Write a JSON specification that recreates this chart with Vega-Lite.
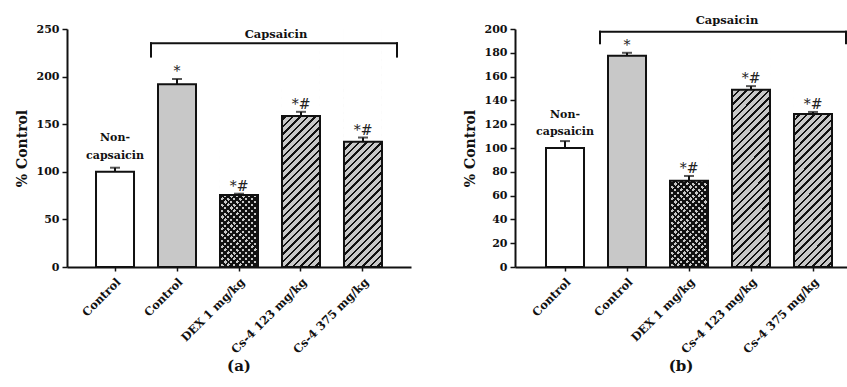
{
"$schema": "https://vega.github.io/schema/vega-lite/v6.json",
"background": "white",
"padding": {"left": 15, "top": 15, "right": 0, "bottom": 0},
"spacing": 52,
"config": {
  "view": {"stroke": null},
  "axis": {"domainColor": "#111", "domainWidth": 2, "tickColor": "#111", "tickWidth": 1.5, "labelColor": "#111", "titleColor": "#111", "labelFont": "DejaVu Serif", "titleFont": "DejaVu Serif", "labelFontWeight": "bold", "titleFontWeight": "bold", "grid": false, "labelOverlap": false}
},
"hconcat": [
{
  "width": 344, "height": 238,
  "resolve": {"axis": {"y": "independent"}},
  "title": {"text": "(a)", "orient": "bottom", "font": "DejaVu Serif", "fontSize": 15, "fontWeight": "bold", "offset": 4, "color": "#111"},
  "data": {"values": [
    {"group": "Control", "value": 100, "upper": 104.3, "sig": "", "pattern": "plain"},
    {"group": "Capsaicin Control", "value": 192, "upper": 197.5, "sig": "*", "pattern": "solid"},
    {"group": "DEX 1 mg/kg", "value": 75.5, "upper": 77, "sig": "*#", "pattern": "cross"},
    {"group": "Cs-4 123 mg/kg", "value": 158.5, "upper": 163, "sig": "*#", "pattern": "diag"},
    {"group": "Cs-4 375 mg/kg", "value": 131.5, "upper": 136, "sig": "*#", "pattern": "diag"}
  ]},
  "layer": [
    {"transform": [{"filter": "datum.pattern == 'diag'"}],
     "mark": {"type": "bar", "fill": {"gradient": "linear", "x1": 0, "y1": 0, "x2": 0.1806, "y2": 1.1308, "stops": [
{"offset":0,"color":"#c8c8c8"},
{"offset":0.2174,"color":"#c8c8c8"},{"offset":0.2174,"color":"#111"},{"offset":0.2261,"color":"#111"},{"offset":0.2261,"color":"#c8c8c8"},
{"offset":0.2446,"color":"#c8c8c8"},{"offset":0.2446,"color":"#111"},{"offset":0.2533,"color":"#111"},{"offset":0.2533,"color":"#c8c8c8"},
{"offset":0.2717,"color":"#c8c8c8"},{"offset":0.2717,"color":"#111"},{"offset":0.2804,"color":"#111"},{"offset":0.2804,"color":"#c8c8c8"},
{"offset":0.2989,"color":"#c8c8c8"},{"offset":0.2989,"color":"#111"},{"offset":0.3076,"color":"#111"},{"offset":0.3076,"color":"#c8c8c8"},
{"offset":0.3261,"color":"#c8c8c8"},{"offset":0.3261,"color":"#111"},{"offset":0.3348,"color":"#111"},{"offset":0.3348,"color":"#c8c8c8"},
{"offset":0.3533,"color":"#c8c8c8"},{"offset":0.3533,"color":"#111"},{"offset":0.3620,"color":"#111"},{"offset":0.3620,"color":"#c8c8c8"},
{"offset":0.3804,"color":"#c8c8c8"},{"offset":0.3804,"color":"#111"},{"offset":0.3891,"color":"#111"},{"offset":0.3891,"color":"#c8c8c8"},
{"offset":0.4076,"color":"#c8c8c8"},{"offset":0.4076,"color":"#111"},{"offset":0.4163,"color":"#111"},{"offset":0.4163,"color":"#c8c8c8"},
{"offset":0.4348,"color":"#c8c8c8"},{"offset":0.4348,"color":"#111"},{"offset":0.4435,"color":"#111"},{"offset":0.4435,"color":"#c8c8c8"},
{"offset":0.4620,"color":"#c8c8c8"},{"offset":0.4620,"color":"#111"},{"offset":0.4707,"color":"#111"},{"offset":0.4707,"color":"#c8c8c8"},
{"offset":0.4891,"color":"#c8c8c8"},{"offset":0.4891,"color":"#111"},{"offset":0.4978,"color":"#111"},{"offset":0.4978,"color":"#c8c8c8"},
{"offset":0.5163,"color":"#c8c8c8"},{"offset":0.5163,"color":"#111"},{"offset":0.5250,"color":"#111"},{"offset":0.5250,"color":"#c8c8c8"},
{"offset":0.5435,"color":"#c8c8c8"},{"offset":0.5435,"color":"#111"},{"offset":0.5522,"color":"#111"},{"offset":0.5522,"color":"#c8c8c8"},
{"offset":0.5707,"color":"#c8c8c8"},{"offset":0.5707,"color":"#111"},{"offset":0.5794,"color":"#111"},{"offset":0.5794,"color":"#c8c8c8"},
{"offset":0.5978,"color":"#c8c8c8"},{"offset":0.5978,"color":"#111"},{"offset":0.6065,"color":"#111"},{"offset":0.6065,"color":"#c8c8c8"},
{"offset":0.6250,"color":"#c8c8c8"},{"offset":0.6250,"color":"#111"},{"offset":0.6337,"color":"#111"},{"offset":0.6337,"color":"#c8c8c8"},
{"offset":0.6522,"color":"#c8c8c8"},{"offset":0.6522,"color":"#111"},{"offset":0.6609,"color":"#111"},{"offset":0.6609,"color":"#c8c8c8"},
{"offset":0.6793,"color":"#c8c8c8"},{"offset":0.6793,"color":"#111"},{"offset":0.6880,"color":"#111"},{"offset":0.6880,"color":"#c8c8c8"},
{"offset":0.7065,"color":"#c8c8c8"},{"offset":0.7065,"color":"#111"},{"offset":0.7152,"color":"#111"},{"offset":0.7152,"color":"#c8c8c8"},
{"offset":0.7337,"color":"#c8c8c8"},{"offset":0.7337,"color":"#111"},{"offset":0.7424,"color":"#111"},{"offset":0.7424,"color":"#c8c8c8"},
{"offset":0.7609,"color":"#c8c8c8"},{"offset":0.7609,"color":"#111"},{"offset":0.7696,"color":"#111"},{"offset":0.7696,"color":"#c8c8c8"},
{"offset":0.7880,"color":"#c8c8c8"},{"offset":0.7880,"color":"#111"},{"offset":0.7967,"color":"#111"},{"offset":0.7967,"color":"#c8c8c8"},
{"offset":0.8152,"color":"#c8c8c8"},{"offset":0.8152,"color":"#111"},{"offset":0.8239,"color":"#111"},{"offset":0.8239,"color":"#c8c8c8"},
{"offset":0.8424,"color":"#c8c8c8"},{"offset":0.8424,"color":"#111"},{"offset":0.8511,"color":"#111"},{"offset":0.8511,"color":"#c8c8c8"},
{"offset":0.8696,"color":"#c8c8c8"},{"offset":0.8696,"color":"#111"},{"offset":0.8783,"color":"#111"},{"offset":0.8783,"color":"#c8c8c8"},
{"offset":0.8967,"color":"#c8c8c8"},{"offset":0.8967,"color":"#111"},{"offset":0.9054,"color":"#111"},{"offset":0.9054,"color":"#c8c8c8"},
{"offset":0.9239,"color":"#c8c8c8"},{"offset":0.9239,"color":"#111"},{"offset":0.9326,"color":"#111"},{"offset":0.9326,"color":"#c8c8c8"},
{"offset":0.9511,"color":"#c8c8c8"},{"offset":0.9511,"color":"#111"},{"offset":0.9598,"color":"#111"},{"offset":0.9598,"color":"#c8c8c8"},
{"offset":0.9783,"color":"#c8c8c8"},{"offset":0.9783,"color":"#111"},{"offset":0.9870,"color":"#111"},{"offset":0.9870,"color":"#c8c8c8"},
{"offset":1,"color":"#c8c8c8"}]}},
     "encoding": {"x": {"field": "group", "type": "nominal"}, "y": {"datum": 0, "type": "quantitative", "axis": null}, "y2": {"datum": 250}}},
    {"transform": [{"filter": "datum.pattern == 'cross'"}],
     "mark": {"type": "bar", "fill": {"gradient": "linear", "x1": 0, "y1": 0, "x2": 0.1806, "y2": 1.1308, "stops": [
{"offset":0,"color":"#c8c8c8"},
{"offset":0.5435,"color":"#c8c8c8"},{"offset":0.5435,"color":"#111"},{"offset":0.5514,"color":"#111"},{"offset":0.5514,"color":"#c8c8c8"},
{"offset":0.5652,"color":"#c8c8c8"},{"offset":0.5652,"color":"#111"},{"offset":0.5732,"color":"#111"},{"offset":0.5732,"color":"#c8c8c8"},
{"offset":0.5870,"color":"#c8c8c8"},{"offset":0.5870,"color":"#111"},{"offset":0.5949,"color":"#111"},{"offset":0.5949,"color":"#c8c8c8"},
{"offset":0.6087,"color":"#c8c8c8"},{"offset":0.6087,"color":"#111"},{"offset":0.6167,"color":"#111"},{"offset":0.6167,"color":"#c8c8c8"},
{"offset":0.6304,"color":"#c8c8c8"},{"offset":0.6304,"color":"#111"},{"offset":0.6384,"color":"#111"},{"offset":0.6384,"color":"#c8c8c8"},
{"offset":0.6522,"color":"#c8c8c8"},{"offset":0.6522,"color":"#111"},{"offset":0.6601,"color":"#111"},{"offset":0.6601,"color":"#c8c8c8"},
{"offset":0.6739,"color":"#c8c8c8"},{"offset":0.6739,"color":"#111"},{"offset":0.6819,"color":"#111"},{"offset":0.6819,"color":"#c8c8c8"},
{"offset":0.6957,"color":"#c8c8c8"},{"offset":0.6957,"color":"#111"},{"offset":0.7036,"color":"#111"},{"offset":0.7036,"color":"#c8c8c8"},
{"offset":0.7174,"color":"#c8c8c8"},{"offset":0.7174,"color":"#111"},{"offset":0.7254,"color":"#111"},{"offset":0.7254,"color":"#c8c8c8"},
{"offset":0.7391,"color":"#c8c8c8"},{"offset":0.7391,"color":"#111"},{"offset":0.7471,"color":"#111"},{"offset":0.7471,"color":"#c8c8c8"},
{"offset":0.7609,"color":"#c8c8c8"},{"offset":0.7609,"color":"#111"},{"offset":0.7688,"color":"#111"},{"offset":0.7688,"color":"#c8c8c8"},
{"offset":0.7826,"color":"#c8c8c8"},{"offset":0.7826,"color":"#111"},{"offset":0.7906,"color":"#111"},{"offset":0.7906,"color":"#c8c8c8"},
{"offset":0.8043,"color":"#c8c8c8"},{"offset":0.8043,"color":"#111"},{"offset":0.8123,"color":"#111"},{"offset":0.8123,"color":"#c8c8c8"},
{"offset":0.8261,"color":"#c8c8c8"},{"offset":0.8261,"color":"#111"},{"offset":0.8341,"color":"#111"},{"offset":0.8341,"color":"#c8c8c8"},
{"offset":0.8478,"color":"#c8c8c8"},{"offset":0.8478,"color":"#111"},{"offset":0.8558,"color":"#111"},{"offset":0.8558,"color":"#c8c8c8"},
{"offset":0.8696,"color":"#c8c8c8"},{"offset":0.8696,"color":"#111"},{"offset":0.8775,"color":"#111"},{"offset":0.8775,"color":"#c8c8c8"},
{"offset":0.8913,"color":"#c8c8c8"},{"offset":0.8913,"color":"#111"},{"offset":0.8993,"color":"#111"},{"offset":0.8993,"color":"#c8c8c8"},
{"offset":0.9130,"color":"#c8c8c8"},{"offset":0.9130,"color":"#111"},{"offset":0.9210,"color":"#111"},{"offset":0.9210,"color":"#c8c8c8"},
{"offset":0.9348,"color":"#c8c8c8"},{"offset":0.9348,"color":"#111"},{"offset":0.9428,"color":"#111"},{"offset":0.9428,"color":"#c8c8c8"},
{"offset":0.9565,"color":"#c8c8c8"},{"offset":0.9565,"color":"#111"},{"offset":0.9645,"color":"#111"},{"offset":0.9645,"color":"#c8c8c8"},
{"offset":0.9783,"color":"#c8c8c8"},{"offset":0.9783,"color":"#111"},{"offset":0.9862,"color":"#111"},{"offset":0.9862,"color":"#c8c8c8"},
{"offset":1,"color":"#c8c8c8"}]}},
     "encoding": {"x": {"field": "group", "type": "nominal"}, "y": {"datum": 0, "type": "quantitative", "axis": null}, "y2": {"datum": 250}}},
    {"transform": [{"filter": "datum.pattern == 'cross'"}],
     "mark": {"type": "bar", "fill": {"gradient": "linear", "x1": 0, "y1": 1, "x2": 0.1806, "y2": -0.1308, "stops": [
{"offset":0,"color":"#111"},{"offset":0.0080,"color":"#111"},{"offset":0.0080,"color":"rgba(0,0,0,0)"},
{"offset":0.0217,"color":"rgba(0,0,0,0)"},{"offset":0.0217,"color":"#111"},{"offset":0.0297,"color":"#111"},{"offset":0.0297,"color":"rgba(0,0,0,0)"},
{"offset":0.0435,"color":"rgba(0,0,0,0)"},{"offset":0.0435,"color":"#111"},{"offset":0.0514,"color":"#111"},{"offset":0.0514,"color":"rgba(0,0,0,0)"},
{"offset":0.0652,"color":"rgba(0,0,0,0)"},{"offset":0.0652,"color":"#111"},{"offset":0.0732,"color":"#111"},{"offset":0.0732,"color":"rgba(0,0,0,0)"},
{"offset":0.0870,"color":"rgba(0,0,0,0)"},{"offset":0.0870,"color":"#111"},{"offset":0.0949,"color":"#111"},{"offset":0.0949,"color":"rgba(0,0,0,0)"},
{"offset":0.1087,"color":"rgba(0,0,0,0)"},{"offset":0.1087,"color":"#111"},{"offset":0.1167,"color":"#111"},{"offset":0.1167,"color":"rgba(0,0,0,0)"},
{"offset":0.1304,"color":"rgba(0,0,0,0)"},{"offset":0.1304,"color":"#111"},{"offset":0.1384,"color":"#111"},{"offset":0.1384,"color":"rgba(0,0,0,0)"},
{"offset":0.1522,"color":"rgba(0,0,0,0)"},{"offset":0.1522,"color":"#111"},{"offset":0.1601,"color":"#111"},{"offset":0.1601,"color":"rgba(0,0,0,0)"},
{"offset":0.1739,"color":"rgba(0,0,0,0)"},{"offset":0.1739,"color":"#111"},{"offset":0.1819,"color":"#111"},{"offset":0.1819,"color":"rgba(0,0,0,0)"},
{"offset":0.1957,"color":"rgba(0,0,0,0)"},{"offset":0.1957,"color":"#111"},{"offset":0.2036,"color":"#111"},{"offset":0.2036,"color":"rgba(0,0,0,0)"},
{"offset":0.2174,"color":"rgba(0,0,0,0)"},{"offset":0.2174,"color":"#111"},{"offset":0.2254,"color":"#111"},{"offset":0.2254,"color":"rgba(0,0,0,0)"},
{"offset":0.2391,"color":"rgba(0,0,0,0)"},{"offset":0.2391,"color":"#111"},{"offset":0.2471,"color":"#111"},{"offset":0.2471,"color":"rgba(0,0,0,0)"},
{"offset":0.2609,"color":"rgba(0,0,0,0)"},{"offset":0.2609,"color":"#111"},{"offset":0.2688,"color":"#111"},{"offset":0.2688,"color":"rgba(0,0,0,0)"},
{"offset":0.2826,"color":"rgba(0,0,0,0)"},{"offset":0.2826,"color":"#111"},{"offset":0.2906,"color":"#111"},{"offset":0.2906,"color":"rgba(0,0,0,0)"},
{"offset":0.3043,"color":"rgba(0,0,0,0)"},{"offset":0.3043,"color":"#111"},{"offset":0.3123,"color":"#111"},{"offset":0.3123,"color":"rgba(0,0,0,0)"},
{"offset":0.3261,"color":"rgba(0,0,0,0)"},{"offset":0.3261,"color":"#111"},{"offset":0.3341,"color":"#111"},{"offset":0.3341,"color":"rgba(0,0,0,0)"},
{"offset":0.3478,"color":"rgba(0,0,0,0)"},{"offset":0.3478,"color":"#111"},{"offset":0.3558,"color":"#111"},{"offset":0.3558,"color":"rgba(0,0,0,0)"},
{"offset":0.3696,"color":"rgba(0,0,0,0)"},{"offset":0.3696,"color":"#111"},{"offset":0.3775,"color":"#111"},{"offset":0.3775,"color":"rgba(0,0,0,0)"},
{"offset":0.3913,"color":"rgba(0,0,0,0)"},{"offset":0.3913,"color":"#111"},{"offset":0.3993,"color":"#111"},{"offset":0.3993,"color":"rgba(0,0,0,0)"},
{"offset":0.4130,"color":"rgba(0,0,0,0)"},{"offset":0.4130,"color":"#111"},{"offset":0.4210,"color":"#111"},{"offset":0.4210,"color":"rgba(0,0,0,0)"},
{"offset":0.4348,"color":"rgba(0,0,0,0)"},{"offset":0.4348,"color":"#111"},{"offset":0.4428,"color":"#111"},{"offset":0.4428,"color":"rgba(0,0,0,0)"},
{"offset":0.4565,"color":"rgba(0,0,0,0)"},{"offset":0.4565,"color":"#111"},{"offset":0.4645,"color":"#111"},{"offset":0.4645,"color":"rgba(0,0,0,0)"},
{"offset":1,"color":"rgba(0,0,0,0)"}]}},
     "encoding": {"x": {"field": "group", "type": "nominal"}, "y": {"datum": 0, "type": "quantitative", "axis": null}, "y2": {"datum": 250}}},
    {"transform": [{"filter": "datum.pattern == 'cross' || datum.pattern == 'diag'"}],
     "mark": {"type": "bar", "fill": "#ffffff"},
     "encoding": {"x": {"field": "group", "type": "nominal"}, "y": {"field": "value", "type": "quantitative", "axis": null}, "y2": {"datum": 250}}},
    {"mark": {"type": "bar", "stroke": "#111", "strokeWidth": 2},
     "encoding": {
       "x": {"field": "group", "type": "nominal", "scale": {"domain": ["Control", "Capsaicin Control", "DEX 1 mg/kg", "Cs-4 123 mg/kg", "Cs-4 375 mg/kg"], "paddingInner": 0.387, "paddingOuter": 0.468}, "axis": {"title": null, "labelAngle": -45, "labelAlign": "right", "labelBaseline": "top", "labelFontSize": 11.5, "labelPadding": 5, "tickSize": 4, "labelExpr": "datum.label == 'Capsaicin Control' ? 'Control' : datum.label"}},
       "y": {"field": "value", "type": "quantitative", "scale": {"domain": [0, 250], "nice": false}, "axis": {"orient": "left", "title": "% Control", "values": [0, 50, 100, 150, 200, 250], "tickSize": 5, "labelFontSize": 11, "titleFontSize": 14, "titlePadding": 7, "labelPadding": 3}},
       "fill": {"field": "pattern", "type": "nominal", "scale": {"domain": ["plain", "solid", "cross", "diag"], "range": ["#ffffff", "#c8c8c8", "rgba(0,0,0,0)", "rgba(0,0,0,0)"]}, "legend": null}}},
    {"mark": {"type": "rule", "color": "#111", "strokeWidth": 2},
     "encoding": {"x": {"field": "group", "type": "nominal"}, "y": {"field": "value", "type": "quantitative", "axis": null}, "y2": {"field": "upper"}}},
    {"mark": {"type": "tick", "color": "#111", "thickness": 2, "size": 10},
     "encoding": {"x": {"field": "group", "type": "nominal"}, "y": {"field": "upper", "type": "quantitative", "axis": null}}},
    {"mark": {"type": "text", "font": "DejaVu Serif", "fontSize": 14, "dy": -3, "baseline": "alphabetic", "color": "#222"},
     "encoding": {"x": {"field": "group", "type": "nominal"}, "y": {"field": "upper", "type": "quantitative", "axis": null}, "text": {"field": "sig"}}},
    {"data": {"values": [{"group": "Control", "y": 135.5, "label": "Non-\ncapsaicin"}]},
     "mark": {"type": "text", "font": "DejaVu Serif", "fontWeight": "bold", "fontSize": 11, "lineBreak": "\n", "lineHeight": 18, "baseline": "middle", "color": "#111"},
     "encoding": {"x": {"field": "group", "type": "nominal"}, "y": {"field": "y", "type": "quantitative", "axis": null}, "text": {"field": "label"}}},
    {"data": {"values": [{"group": "DEX 1 mg/kg", "y": 243.7, "label": "Capsaicin"}]},
     "mark": {"type": "text", "font": "DejaVu Serif", "fontWeight": "bold", "fontSize": 11.5, "baseline": "middle", "color": "#111", "xOffset": 37},
     "encoding": {"x": {"field": "group", "type": "nominal"}, "y": {"field": "y", "type": "quantitative", "axis": null}, "text": {"field": "label"}}},
    {"data": {"values": [{"group": "Capsaicin Control", "group2": "Cs-4 375 mg/kg", "y": 235, "yb": 221}]},
     "mark": {"type": "rule", "color": "#111", "strokeWidth": 2, "strokeCap": "square", "xOffset": -26, "x2Offset": 34},
     "encoding": {"x": {"field": "group", "type": "nominal"}, "x2": {"field": "group2"}, "y": {"field": "y", "type": "quantitative", "axis": null}}},
    {"data": {"values": [{"group": "Capsaicin Control", "y": 235, "yb": 221}]},
     "mark": {"type": "rule", "color": "#111", "strokeWidth": 2, "strokeCap": "square", "xOffset": -26},
     "encoding": {"x": {"field": "group", "type": "nominal"}, "y": {"field": "y", "type": "quantitative", "axis": null}, "y2": {"field": "yb"}}},
    {"data": {"values": [{"group": "Cs-4 375 mg/kg", "y": 235, "yb": 221}]},
     "mark": {"type": "rule", "color": "#111", "strokeWidth": 2, "strokeCap": "square", "xOffset": 34},
     "encoding": {"x": {"field": "group", "type": "nominal"}, "y": {"field": "y", "type": "quantitative", "axis": null}, "y2": {"field": "yb"}}}
  ]
},
{
  "width": 332, "height": 238,
  "resolve": {"axis": {"y": "independent"}},
  "title": {"text": "(b)", "orient": "bottom", "font": "DejaVu Serif", "fontSize": 15, "fontWeight": "bold", "offset": 4, "color": "#111"},
  "data": {"values": [
    {"group": "Control", "value": 100, "upper": 105.8, "sig": "", "pattern": "plain"},
    {"group": "Capsaicin Control", "value": 177.5, "upper": 180, "sig": "*", "pattern": "solid"},
    {"group": "DEX 1 mg/kg", "value": 72.5, "upper": 76.5, "sig": "*#", "pattern": "cross"},
    {"group": "Cs-4 123 mg/kg", "value": 149, "upper": 152, "sig": "*#", "pattern": "diag"},
    {"group": "Cs-4 375 mg/kg", "value": 128.5, "upper": 130.3, "sig": "*#", "pattern": "diag"}
  ]},
  "layer": [
    {"transform": [{"filter": "datum.pattern == 'diag'"}],
     "mark": {"type": "bar", "fill": {"gradient": "linear", "x1": 0, "y1": 0, "x2": 0.1806, "y2": 1.1308, "stops": [
{"offset":0,"color":"#c8c8c8"},
{"offset":0.2174,"color":"#c8c8c8"},{"offset":0.2174,"color":"#111"},{"offset":0.2261,"color":"#111"},{"offset":0.2261,"color":"#c8c8c8"},
{"offset":0.2446,"color":"#c8c8c8"},{"offset":0.2446,"color":"#111"},{"offset":0.2533,"color":"#111"},{"offset":0.2533,"color":"#c8c8c8"},
{"offset":0.2717,"color":"#c8c8c8"},{"offset":0.2717,"color":"#111"},{"offset":0.2804,"color":"#111"},{"offset":0.2804,"color":"#c8c8c8"},
{"offset":0.2989,"color":"#c8c8c8"},{"offset":0.2989,"color":"#111"},{"offset":0.3076,"color":"#111"},{"offset":0.3076,"color":"#c8c8c8"},
{"offset":0.3261,"color":"#c8c8c8"},{"offset":0.3261,"color":"#111"},{"offset":0.3348,"color":"#111"},{"offset":0.3348,"color":"#c8c8c8"},
{"offset":0.3533,"color":"#c8c8c8"},{"offset":0.3533,"color":"#111"},{"offset":0.3620,"color":"#111"},{"offset":0.3620,"color":"#c8c8c8"},
{"offset":0.3804,"color":"#c8c8c8"},{"offset":0.3804,"color":"#111"},{"offset":0.3891,"color":"#111"},{"offset":0.3891,"color":"#c8c8c8"},
{"offset":0.4076,"color":"#c8c8c8"},{"offset":0.4076,"color":"#111"},{"offset":0.4163,"color":"#111"},{"offset":0.4163,"color":"#c8c8c8"},
{"offset":0.4348,"color":"#c8c8c8"},{"offset":0.4348,"color":"#111"},{"offset":0.4435,"color":"#111"},{"offset":0.4435,"color":"#c8c8c8"},
{"offset":0.4620,"color":"#c8c8c8"},{"offset":0.4620,"color":"#111"},{"offset":0.4707,"color":"#111"},{"offset":0.4707,"color":"#c8c8c8"},
{"offset":0.4891,"color":"#c8c8c8"},{"offset":0.4891,"color":"#111"},{"offset":0.4978,"color":"#111"},{"offset":0.4978,"color":"#c8c8c8"},
{"offset":0.5163,"color":"#c8c8c8"},{"offset":0.5163,"color":"#111"},{"offset":0.5250,"color":"#111"},{"offset":0.5250,"color":"#c8c8c8"},
{"offset":0.5435,"color":"#c8c8c8"},{"offset":0.5435,"color":"#111"},{"offset":0.5522,"color":"#111"},{"offset":0.5522,"color":"#c8c8c8"},
{"offset":0.5707,"color":"#c8c8c8"},{"offset":0.5707,"color":"#111"},{"offset":0.5794,"color":"#111"},{"offset":0.5794,"color":"#c8c8c8"},
{"offset":0.5978,"color":"#c8c8c8"},{"offset":0.5978,"color":"#111"},{"offset":0.6065,"color":"#111"},{"offset":0.6065,"color":"#c8c8c8"},
{"offset":0.6250,"color":"#c8c8c8"},{"offset":0.6250,"color":"#111"},{"offset":0.6337,"color":"#111"},{"offset":0.6337,"color":"#c8c8c8"},
{"offset":0.6522,"color":"#c8c8c8"},{"offset":0.6522,"color":"#111"},{"offset":0.6609,"color":"#111"},{"offset":0.6609,"color":"#c8c8c8"},
{"offset":0.6793,"color":"#c8c8c8"},{"offset":0.6793,"color":"#111"},{"offset":0.6880,"color":"#111"},{"offset":0.6880,"color":"#c8c8c8"},
{"offset":0.7065,"color":"#c8c8c8"},{"offset":0.7065,"color":"#111"},{"offset":0.7152,"color":"#111"},{"offset":0.7152,"color":"#c8c8c8"},
{"offset":0.7337,"color":"#c8c8c8"},{"offset":0.7337,"color":"#111"},{"offset":0.7424,"color":"#111"},{"offset":0.7424,"color":"#c8c8c8"},
{"offset":0.7609,"color":"#c8c8c8"},{"offset":0.7609,"color":"#111"},{"offset":0.7696,"color":"#111"},{"offset":0.7696,"color":"#c8c8c8"},
{"offset":0.7880,"color":"#c8c8c8"},{"offset":0.7880,"color":"#111"},{"offset":0.7967,"color":"#111"},{"offset":0.7967,"color":"#c8c8c8"},
{"offset":0.8152,"color":"#c8c8c8"},{"offset":0.8152,"color":"#111"},{"offset":0.8239,"color":"#111"},{"offset":0.8239,"color":"#c8c8c8"},
{"offset":0.8424,"color":"#c8c8c8"},{"offset":0.8424,"color":"#111"},{"offset":0.8511,"color":"#111"},{"offset":0.8511,"color":"#c8c8c8"},
{"offset":0.8696,"color":"#c8c8c8"},{"offset":0.8696,"color":"#111"},{"offset":0.8783,"color":"#111"},{"offset":0.8783,"color":"#c8c8c8"},
{"offset":0.8967,"color":"#c8c8c8"},{"offset":0.8967,"color":"#111"},{"offset":0.9054,"color":"#111"},{"offset":0.9054,"color":"#c8c8c8"},
{"offset":0.9239,"color":"#c8c8c8"},{"offset":0.9239,"color":"#111"},{"offset":0.9326,"color":"#111"},{"offset":0.9326,"color":"#c8c8c8"},
{"offset":0.9511,"color":"#c8c8c8"},{"offset":0.9511,"color":"#111"},{"offset":0.9598,"color":"#111"},{"offset":0.9598,"color":"#c8c8c8"},
{"offset":0.9783,"color":"#c8c8c8"},{"offset":0.9783,"color":"#111"},{"offset":0.9870,"color":"#111"},{"offset":0.9870,"color":"#c8c8c8"},
{"offset":1,"color":"#c8c8c8"}]}},
     "encoding": {"x": {"field": "group", "type": "nominal"}, "y": {"datum": 0, "type": "quantitative", "axis": null}, "y2": {"datum": 200}}},
    {"transform": [{"filter": "datum.pattern == 'cross'"}],
     "mark": {"type": "bar", "fill": {"gradient": "linear", "x1": 0, "y1": 0, "x2": 0.1806, "y2": 1.1308, "stops": [
{"offset":0,"color":"#c8c8c8"},
{"offset":0.5435,"color":"#c8c8c8"},{"offset":0.5435,"color":"#111"},{"offset":0.5514,"color":"#111"},{"offset":0.5514,"color":"#c8c8c8"},
{"offset":0.5652,"color":"#c8c8c8"},{"offset":0.5652,"color":"#111"},{"offset":0.5732,"color":"#111"},{"offset":0.5732,"color":"#c8c8c8"},
{"offset":0.5870,"color":"#c8c8c8"},{"offset":0.5870,"color":"#111"},{"offset":0.5949,"color":"#111"},{"offset":0.5949,"color":"#c8c8c8"},
{"offset":0.6087,"color":"#c8c8c8"},{"offset":0.6087,"color":"#111"},{"offset":0.6167,"color":"#111"},{"offset":0.6167,"color":"#c8c8c8"},
{"offset":0.6304,"color":"#c8c8c8"},{"offset":0.6304,"color":"#111"},{"offset":0.6384,"color":"#111"},{"offset":0.6384,"color":"#c8c8c8"},
{"offset":0.6522,"color":"#c8c8c8"},{"offset":0.6522,"color":"#111"},{"offset":0.6601,"color":"#111"},{"offset":0.6601,"color":"#c8c8c8"},
{"offset":0.6739,"color":"#c8c8c8"},{"offset":0.6739,"color":"#111"},{"offset":0.6819,"color":"#111"},{"offset":0.6819,"color":"#c8c8c8"},
{"offset":0.6957,"color":"#c8c8c8"},{"offset":0.6957,"color":"#111"},{"offset":0.7036,"color":"#111"},{"offset":0.7036,"color":"#c8c8c8"},
{"offset":0.7174,"color":"#c8c8c8"},{"offset":0.7174,"color":"#111"},{"offset":0.7254,"color":"#111"},{"offset":0.7254,"color":"#c8c8c8"},
{"offset":0.7391,"color":"#c8c8c8"},{"offset":0.7391,"color":"#111"},{"offset":0.7471,"color":"#111"},{"offset":0.7471,"color":"#c8c8c8"},
{"offset":0.7609,"color":"#c8c8c8"},{"offset":0.7609,"color":"#111"},{"offset":0.7688,"color":"#111"},{"offset":0.7688,"color":"#c8c8c8"},
{"offset":0.7826,"color":"#c8c8c8"},{"offset":0.7826,"color":"#111"},{"offset":0.7906,"color":"#111"},{"offset":0.7906,"color":"#c8c8c8"},
{"offset":0.8043,"color":"#c8c8c8"},{"offset":0.8043,"color":"#111"},{"offset":0.8123,"color":"#111"},{"offset":0.8123,"color":"#c8c8c8"},
{"offset":0.8261,"color":"#c8c8c8"},{"offset":0.8261,"color":"#111"},{"offset":0.8341,"color":"#111"},{"offset":0.8341,"color":"#c8c8c8"},
{"offset":0.8478,"color":"#c8c8c8"},{"offset":0.8478,"color":"#111"},{"offset":0.8558,"color":"#111"},{"offset":0.8558,"color":"#c8c8c8"},
{"offset":0.8696,"color":"#c8c8c8"},{"offset":0.8696,"color":"#111"},{"offset":0.8775,"color":"#111"},{"offset":0.8775,"color":"#c8c8c8"},
{"offset":0.8913,"color":"#c8c8c8"},{"offset":0.8913,"color":"#111"},{"offset":0.8993,"color":"#111"},{"offset":0.8993,"color":"#c8c8c8"},
{"offset":0.9130,"color":"#c8c8c8"},{"offset":0.9130,"color":"#111"},{"offset":0.9210,"color":"#111"},{"offset":0.9210,"color":"#c8c8c8"},
{"offset":0.9348,"color":"#c8c8c8"},{"offset":0.9348,"color":"#111"},{"offset":0.9428,"color":"#111"},{"offset":0.9428,"color":"#c8c8c8"},
{"offset":0.9565,"color":"#c8c8c8"},{"offset":0.9565,"color":"#111"},{"offset":0.9645,"color":"#111"},{"offset":0.9645,"color":"#c8c8c8"},
{"offset":0.9783,"color":"#c8c8c8"},{"offset":0.9783,"color":"#111"},{"offset":0.9862,"color":"#111"},{"offset":0.9862,"color":"#c8c8c8"},
{"offset":1,"color":"#c8c8c8"}]}},
     "encoding": {"x": {"field": "group", "type": "nominal"}, "y": {"datum": 0, "type": "quantitative", "axis": null}, "y2": {"datum": 200}}},
    {"transform": [{"filter": "datum.pattern == 'cross'"}],
     "mark": {"type": "bar", "fill": {"gradient": "linear", "x1": 0, "y1": 1, "x2": 0.1806, "y2": -0.1308, "stops": [
{"offset":0,"color":"#111"},{"offset":0.0080,"color":"#111"},{"offset":0.0080,"color":"rgba(0,0,0,0)"},
{"offset":0.0217,"color":"rgba(0,0,0,0)"},{"offset":0.0217,"color":"#111"},{"offset":0.0297,"color":"#111"},{"offset":0.0297,"color":"rgba(0,0,0,0)"},
{"offset":0.0435,"color":"rgba(0,0,0,0)"},{"offset":0.0435,"color":"#111"},{"offset":0.0514,"color":"#111"},{"offset":0.0514,"color":"rgba(0,0,0,0)"},
{"offset":0.0652,"color":"rgba(0,0,0,0)"},{"offset":0.0652,"color":"#111"},{"offset":0.0732,"color":"#111"},{"offset":0.0732,"color":"rgba(0,0,0,0)"},
{"offset":0.0870,"color":"rgba(0,0,0,0)"},{"offset":0.0870,"color":"#111"},{"offset":0.0949,"color":"#111"},{"offset":0.0949,"color":"rgba(0,0,0,0)"},
{"offset":0.1087,"color":"rgba(0,0,0,0)"},{"offset":0.1087,"color":"#111"},{"offset":0.1167,"color":"#111"},{"offset":0.1167,"color":"rgba(0,0,0,0)"},
{"offset":0.1304,"color":"rgba(0,0,0,0)"},{"offset":0.1304,"color":"#111"},{"offset":0.1384,"color":"#111"},{"offset":0.1384,"color":"rgba(0,0,0,0)"},
{"offset":0.1522,"color":"rgba(0,0,0,0)"},{"offset":0.1522,"color":"#111"},{"offset":0.1601,"color":"#111"},{"offset":0.1601,"color":"rgba(0,0,0,0)"},
{"offset":0.1739,"color":"rgba(0,0,0,0)"},{"offset":0.1739,"color":"#111"},{"offset":0.1819,"color":"#111"},{"offset":0.1819,"color":"rgba(0,0,0,0)"},
{"offset":0.1957,"color":"rgba(0,0,0,0)"},{"offset":0.1957,"color":"#111"},{"offset":0.2036,"color":"#111"},{"offset":0.2036,"color":"rgba(0,0,0,0)"},
{"offset":0.2174,"color":"rgba(0,0,0,0)"},{"offset":0.2174,"color":"#111"},{"offset":0.2254,"color":"#111"},{"offset":0.2254,"color":"rgba(0,0,0,0)"},
{"offset":0.2391,"color":"rgba(0,0,0,0)"},{"offset":0.2391,"color":"#111"},{"offset":0.2471,"color":"#111"},{"offset":0.2471,"color":"rgba(0,0,0,0)"},
{"offset":0.2609,"color":"rgba(0,0,0,0)"},{"offset":0.2609,"color":"#111"},{"offset":0.2688,"color":"#111"},{"offset":0.2688,"color":"rgba(0,0,0,0)"},
{"offset":0.2826,"color":"rgba(0,0,0,0)"},{"offset":0.2826,"color":"#111"},{"offset":0.2906,"color":"#111"},{"offset":0.2906,"color":"rgba(0,0,0,0)"},
{"offset":0.3043,"color":"rgba(0,0,0,0)"},{"offset":0.3043,"color":"#111"},{"offset":0.3123,"color":"#111"},{"offset":0.3123,"color":"rgba(0,0,0,0)"},
{"offset":0.3261,"color":"rgba(0,0,0,0)"},{"offset":0.3261,"color":"#111"},{"offset":0.3341,"color":"#111"},{"offset":0.3341,"color":"rgba(0,0,0,0)"},
{"offset":0.3478,"color":"rgba(0,0,0,0)"},{"offset":0.3478,"color":"#111"},{"offset":0.3558,"color":"#111"},{"offset":0.3558,"color":"rgba(0,0,0,0)"},
{"offset":0.3696,"color":"rgba(0,0,0,0)"},{"offset":0.3696,"color":"#111"},{"offset":0.3775,"color":"#111"},{"offset":0.3775,"color":"rgba(0,0,0,0)"},
{"offset":0.3913,"color":"rgba(0,0,0,0)"},{"offset":0.3913,"color":"#111"},{"offset":0.3993,"color":"#111"},{"offset":0.3993,"color":"rgba(0,0,0,0)"},
{"offset":0.4130,"color":"rgba(0,0,0,0)"},{"offset":0.4130,"color":"#111"},{"offset":0.4210,"color":"#111"},{"offset":0.4210,"color":"rgba(0,0,0,0)"},
{"offset":0.4348,"color":"rgba(0,0,0,0)"},{"offset":0.4348,"color":"#111"},{"offset":0.4428,"color":"#111"},{"offset":0.4428,"color":"rgba(0,0,0,0)"},
{"offset":0.4565,"color":"rgba(0,0,0,0)"},{"offset":0.4565,"color":"#111"},{"offset":0.4645,"color":"#111"},{"offset":0.4645,"color":"rgba(0,0,0,0)"},
{"offset":1,"color":"rgba(0,0,0,0)"}]}},
     "encoding": {"x": {"field": "group", "type": "nominal"}, "y": {"datum": 0, "type": "quantitative", "axis": null}, "y2": {"datum": 200}}},
    {"transform": [{"filter": "datum.pattern == 'cross' || datum.pattern == 'diag'"}],
     "mark": {"type": "bar", "fill": "#ffffff"},
     "encoding": {"x": {"field": "group", "type": "nominal"}, "y": {"field": "value", "type": "quantitative", "axis": null}, "y2": {"datum": 200}}},
    {"mark": {"type": "bar", "stroke": "#111", "strokeWidth": 2},
     "encoding": {
       "x": {"field": "group", "type": "nominal", "scale": {"domain": ["Control", "Capsaicin Control", "DEX 1 mg/kg", "Cs-4 123 mg/kg", "Cs-4 375 mg/kg"], "paddingInner": 0.387, "paddingOuter": 0.371, "align": 0.674}, "axis": {"title": null, "labelAngle": -45, "labelAlign": "right", "labelBaseline": "top", "labelFontSize": 11.5, "labelPadding": 5, "tickSize": 4, "labelExpr": "datum.label == 'Capsaicin Control' ? 'Control' : datum.label"}},
       "y": {"field": "value", "type": "quantitative", "scale": {"domain": [0, 200], "nice": false}, "axis": {"orient": "left", "title": "% Control", "values": [0, 20, 40, 60, 80, 100, 120, 140, 160, 180, 200], "tickSize": 5, "labelFontSize": 11, "titleFontSize": 14, "titlePadding": 7, "labelPadding": 3}},
       "fill": {"field": "pattern", "type": "nominal", "scale": {"domain": ["plain", "solid", "cross", "diag"], "range": ["#ffffff", "#c8c8c8", "rgba(0,0,0,0)", "rgba(0,0,0,0)"]}, "legend": null}}},
    {"mark": {"type": "rule", "color": "#111", "strokeWidth": 2},
     "encoding": {"x": {"field": "group", "type": "nominal"}, "y": {"field": "value", "type": "quantitative", "axis": null}, "y2": {"field": "upper"}}},
    {"mark": {"type": "tick", "color": "#111", "thickness": 2, "size": 10},
     "encoding": {"x": {"field": "group", "type": "nominal"}, "y": {"field": "upper", "type": "quantitative", "axis": null}}},
    {"mark": {"type": "text", "font": "DejaVu Serif", "fontSize": 14, "dy": -3, "baseline": "alphabetic", "color": "#222"},
     "encoding": {"x": {"field": "group", "type": "nominal"}, "y": {"field": "upper", "type": "quantitative", "axis": null}, "text": {"field": "sig"}}},
    {"data": {"values": [{"group": "Control", "y": 127.7, "label": "Non-\ncapsaicin"}]},
     "mark": {"type": "text", "font": "DejaVu Serif", "fontWeight": "bold", "fontSize": 11, "lineBreak": "\n", "lineHeight": 17, "baseline": "middle", "color": "#111"},
     "encoding": {"x": {"field": "group", "type": "nominal"}, "y": {"field": "y", "type": "quantitative", "axis": null}, "text": {"field": "label"}}},
    {"data": {"values": [{"group": "DEX 1 mg/kg", "y": 206.7, "label": "Capsaicin"}]},
     "mark": {"type": "text", "font": "DejaVu Serif", "fontWeight": "bold", "fontSize": 11.5, "baseline": "middle", "color": "#111", "xOffset": 38},
     "encoding": {"x": {"field": "group", "type": "nominal"}, "y": {"field": "y", "type": "quantitative", "axis": null}, "text": {"field": "label"}}},
    {"data": {"values": [{"group": "Capsaicin Control", "group2": "Cs-4 375 mg/kg", "y": 197.7, "yb": 188}]},
     "mark": {"type": "rule", "color": "#111", "strokeWidth": 2, "strokeCap": "square", "xOffset": -27, "x2Offset": 33},
     "encoding": {"x": {"field": "group", "type": "nominal"}, "x2": {"field": "group2"}, "y": {"field": "y", "type": "quantitative", "axis": null}}},
    {"data": {"values": [{"group": "Capsaicin Control", "y": 197.7, "yb": 188}]},
     "mark": {"type": "rule", "color": "#111", "strokeWidth": 2, "strokeCap": "square", "xOffset": -27},
     "encoding": {"x": {"field": "group", "type": "nominal"}, "y": {"field": "y", "type": "quantitative", "axis": null}, "y2": {"field": "yb"}}},
    {"data": {"values": [{"group": "Cs-4 375 mg/kg", "y": 197.7, "yb": 188}]},
     "mark": {"type": "rule", "color": "#111", "strokeWidth": 2, "strokeCap": "square", "xOffset": 33},
     "encoding": {"x": {"field": "group", "type": "nominal"}, "y": {"field": "y", "type": "quantitative", "axis": null}, "y2": {"field": "yb"}}}
  ]
}
]
}
